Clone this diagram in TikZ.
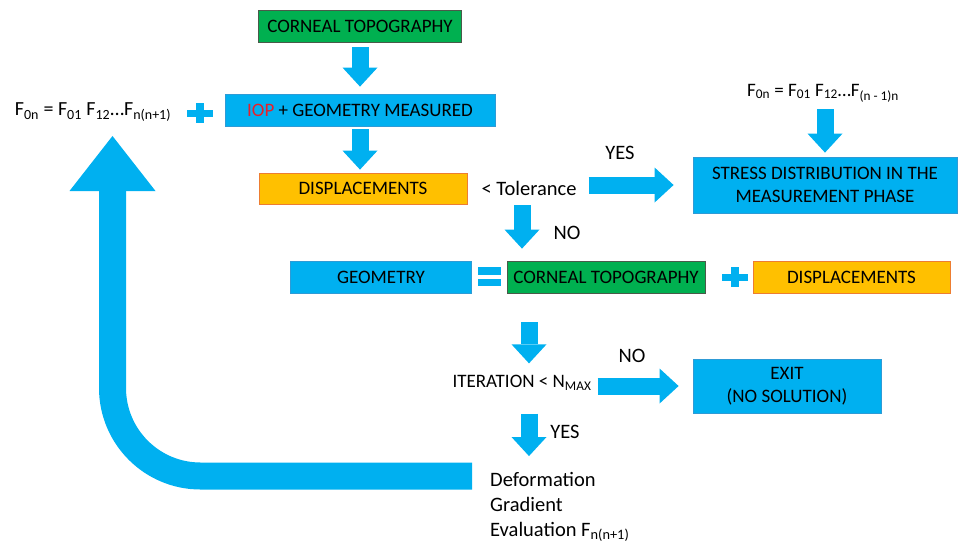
\documentclass[tikz,border=0pt]{standalone}
\usepackage{fontspec}
\setmainfont{Carlito}
\usepackage{tikz}
\usetikzlibrary{arrows.meta,positioning,calc}
\definecolor{skyb}{HTML}{00B0F0}
\definecolor{bluedge}{HTML}{2E9BD6}
\definecolor{boxgreen}{HTML}{00B050}
\definecolor{greenedge}{HTML}{4A5A4A}
\definecolor{boxyellow}{HTML}{FFC000}
\definecolor{boxorange}{HTML}{ED7D31}
\definecolor{iopred}{HTML}{E8202A}

\begin{document}
\begin{tikzpicture}[
    x=1pt,y=-1pt,
    inner sep=1pt, %text padding of the nodes
    font=\fontsize{19}{23}\selectfont,
    big/.style={font=\fontsize{20.5}{25}\selectfont},
    gbox/.style={rectangle,draw=greenedge,fill=boxgreen,line width=0.8pt,
        minimum height=32pt},
    bbox/.style={rectangle,draw=bluedge,fill=skyb,line width=0.8pt,
        minimum height=32pt},
    ybox/.style={rectangle,draw=boxorange,fill=boxyellow,line width=0.8pt,
        minimum height=31pt},
    barw/.style={draw=skyb,line width=17pt,
        -{Triangle[width=35pt,length=19pt,line width=0pt]}},
    bigarw/.style={draw=skyb,line width=27pt,rounded corners=88pt,
        -{Triangle[width=86pt,length=55pt,line width=0pt]}},
    sgn/.style={fill=skyb},
    ]
    \useasboundingbox (0,0) rectangle (960,550);
    % measured branch
    \node[gbox,minimum width=203pt] (topo) at (360,26) {CORNEAL TOPOGRAPHY};
    \node[bbox,minimum width=270pt] (meas) at (360,110)
        {\textcolor{iopred}{IOP} + GEOMETRY MEASURED};
    \node[ybox,minimum width=208pt] (disp) at (363,188.5) {DISPLACEMENTS};
    \node[big] (tol) at (529,188) {< Tolerance};
    \node[font=\fontsize{20}{24}\selectfont] (fleft) at (93,112)
        {F\textsubscript{0n} = F\textsubscript{01} F\textsubscript{12}…F\textsubscript{n(n+1)}};
    \node (fright) at (823,93)
        {F\textsubscript{0n} = F\textsubscript{01} F\textsubscript{12}…F\textsubscript{(n - 1)n}};
    \node[bbox,minimum width=264pt,minimum height=56pt,align=center] (stress)
        at (825,185) {STRESS DISTRIBUTION IN THE\\MEASUREMENT PHASE};
    % geometry update
    \node[bbox,minimum width=181pt] (geom) at (381,277) {GEOMETRY};
    \node[gbox,minimum width=198pt] (topo2) at (606,277) {CORNEAL TOPOGRAPHY};
    \node[ybox,minimum width=197pt,minimum height=32pt] (disp2) at (851.5,277)
        {DISPLACEMENTS};
    % iteration check
    \node (iter) at (522,383) {ITERATION < N\textsubscript{MAX}};
    \node[bbox,minimum width=188pt,minimum height=54pt,align=center] (exit)
        at (787,386) {EXIT\\(NO SOLUTION)};
    \node[big,align=left,anchor=west] (deform)
        at (489,507) {Deformation\\Gradient\\Evaluation F\textsubscript{n(n+1)}};
    % branch labels
    \node[big] (yes1) at (620,153) {YES};
    \node[big] (no1) at (567,233) {NO};
    \node[big] (no2) at (632,356) {NO};
    \node[big] (yes2) at (565,432) {YES};
    % block arrows
    \draw[barw,shorten <=5pt,shorten >=7pt] (topo) -- (meas);
    \draw[barw,shorten <=3pt,shorten >=3pt] (meas.south) -- (meas.south |- disp.north);
    \draw[barw,shorten <=11pt,shorten >=19pt] (stress.west -| tol.east) -- (stress.west);
    \draw[barw,shorten <=6pt,shorten >=4pt] (fright.south -| stress) -- (stress.north);
    \draw[barw,shorten <=9pt,shorten >=12pt] (tol.south -| iter.north)
        -- (topo2.north -| iter.north);
    \draw[barw,shorten <=29pt,shorten >=11pt] ([xshift=7pt]iter.north |- topo2.south)
        -- ([xshift=7pt]iter.north);
    \draw[barw,shorten <=5pt,shorten >=14pt] (exit.west -| iter.east) -- (exit.west);
    \draw[barw,shorten <=22pt,shorten >=15pt] ([xshift=7pt]iter.south)
        -- ([xshift=7pt]iter.south |- deform.north);
    % return arrow
    \coordinate (back) at (472,476);
    \coordinate (ret) at (112.5,136);
    \draw[bigarw] (back) -| (ret);
    % plus and equals signs
    \fill[sgn] (187,109.5) rectangle (213,116.5);
    \fill[sgn] (196,103) rectangle (204,123);
    \fill[sgn] (722,273.5) rectangle (748,280.5);
    \fill[sgn] (731,267) rectangle (739,287);
    \fill[sgn] (478,267) rectangle (501,275);
    \fill[sgn] (478,279) rectangle (501,286);
\end{tikzpicture}
\end{document}
